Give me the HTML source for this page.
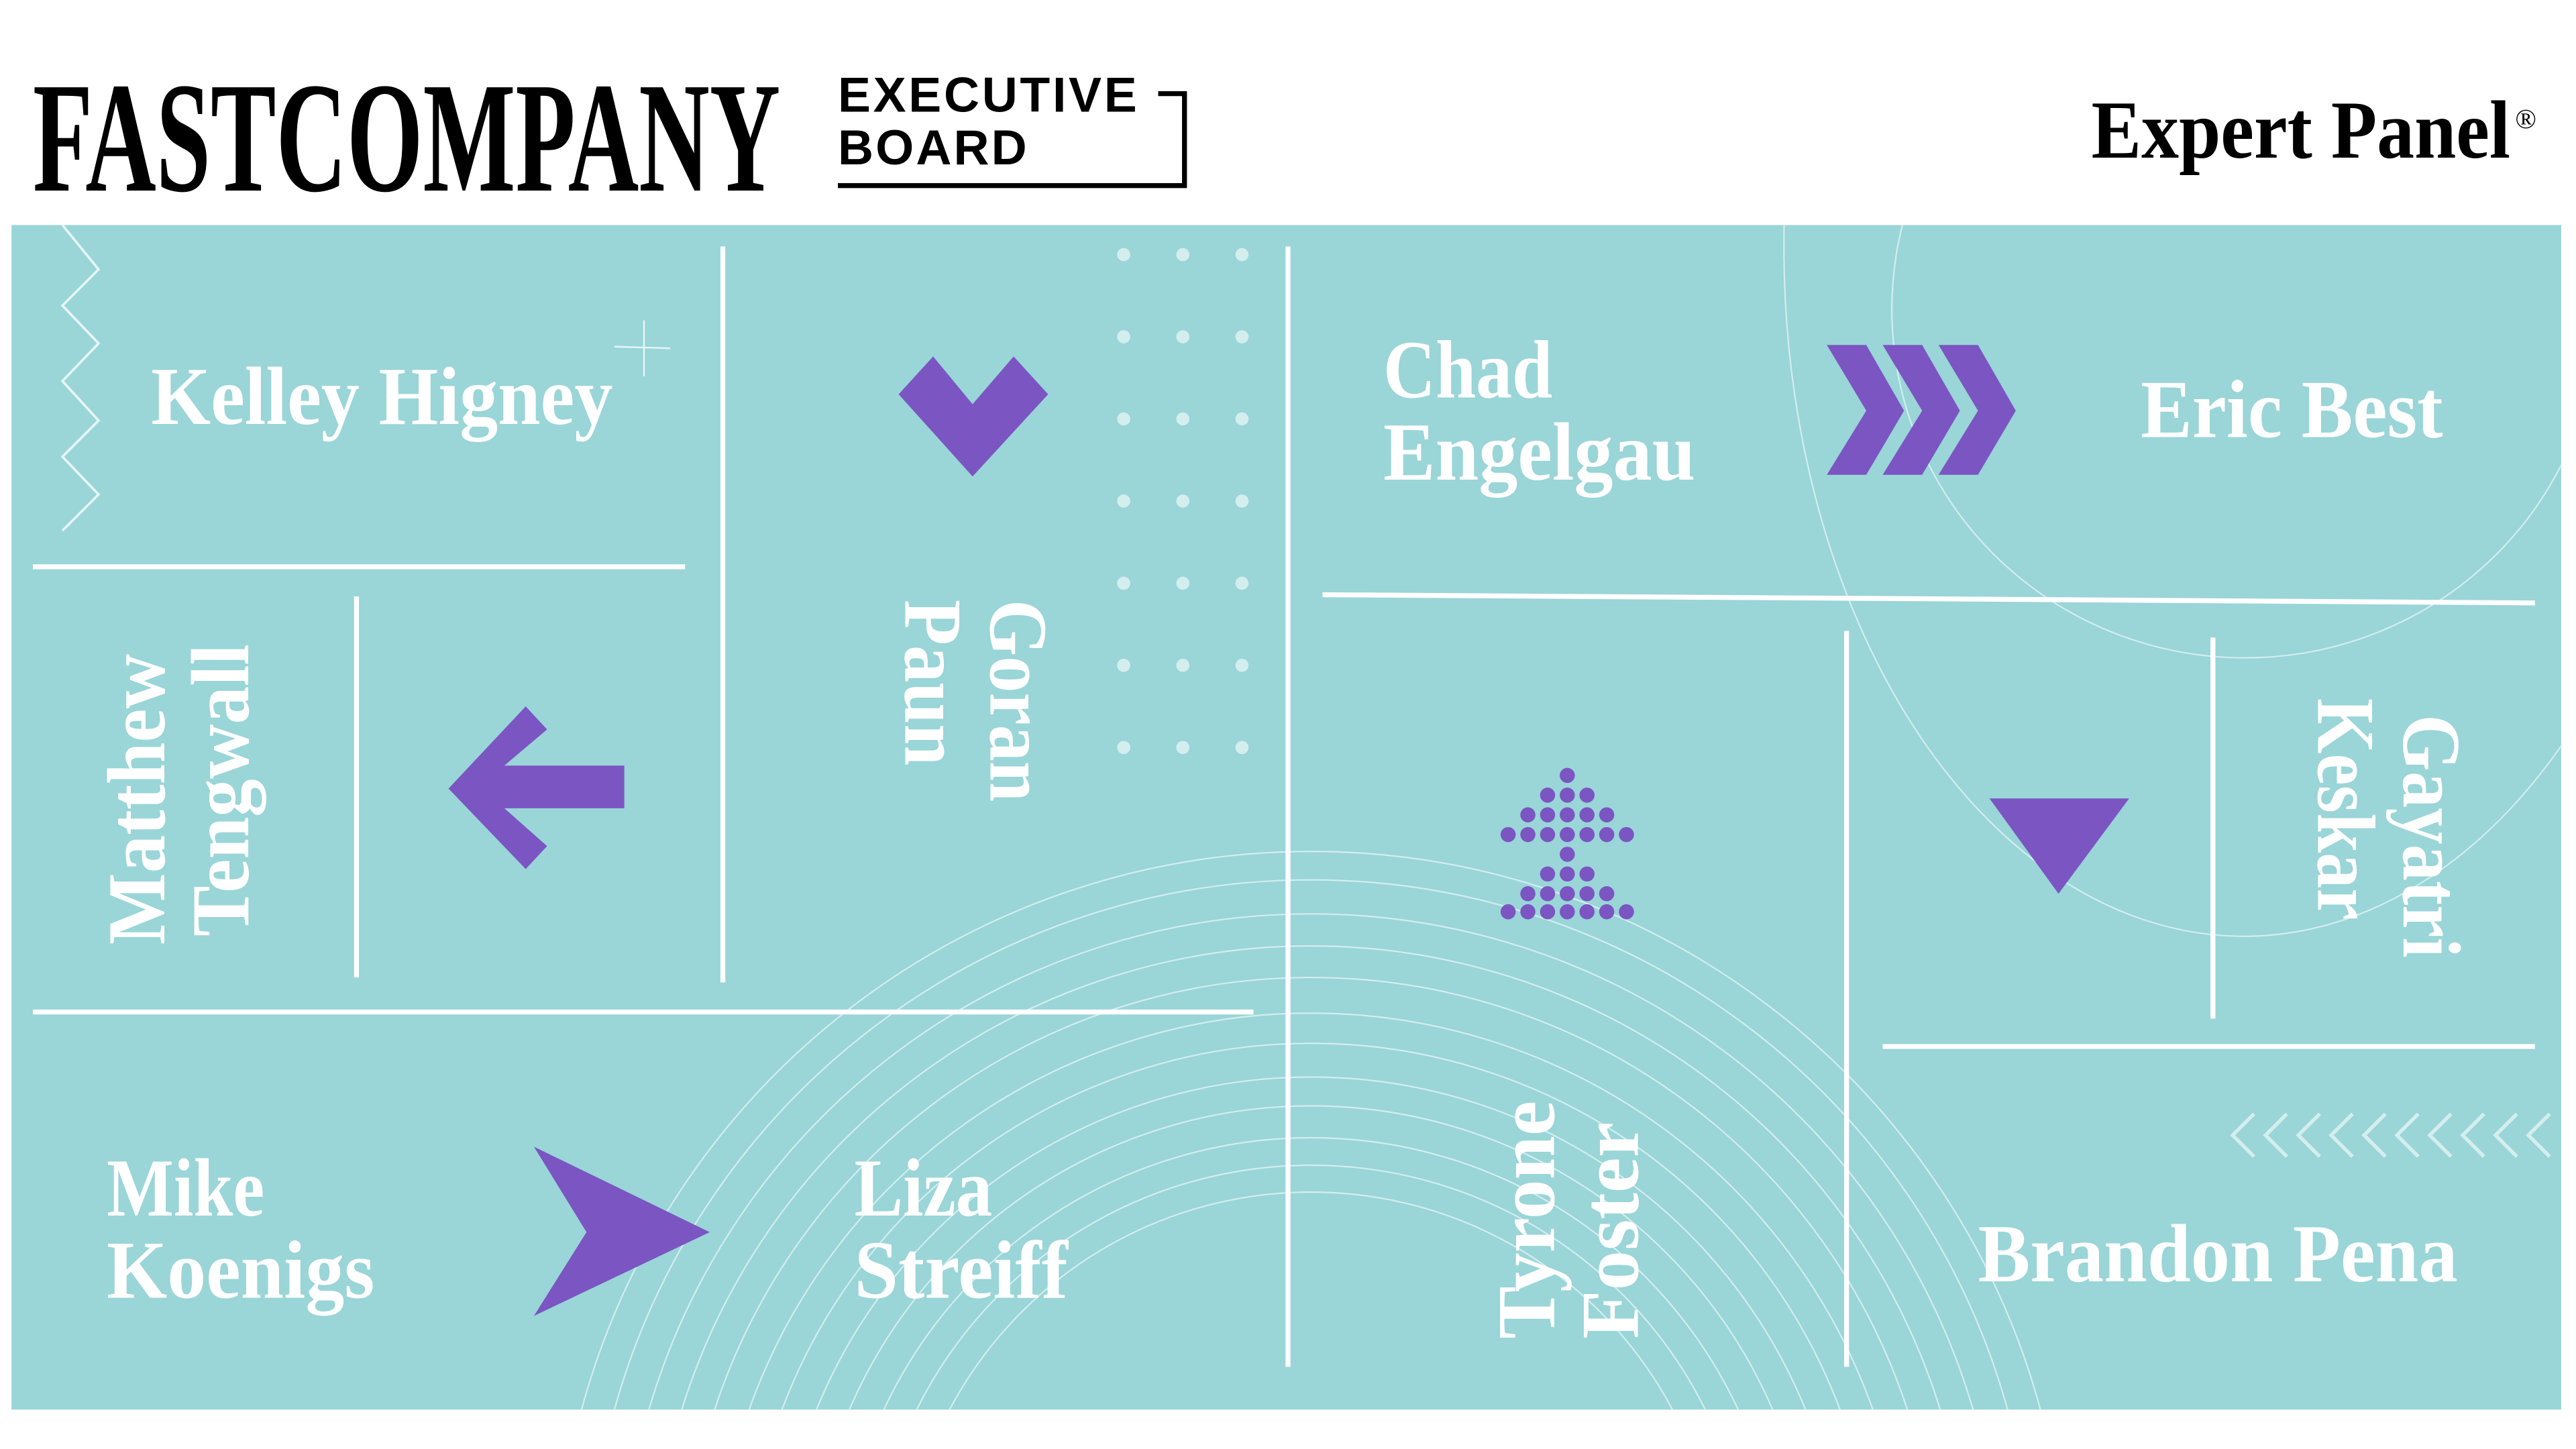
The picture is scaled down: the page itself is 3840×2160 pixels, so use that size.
<!DOCTYPE html>
<html><head><meta charset="utf-8"><style>
html,body{margin:0;padding:0;background:#fff;width:3840px;height:2160px;overflow:hidden;}
svg{display:block;}
.n{font-family:"Liberation Serif",serif;font-weight:bold;fill:#fff;}
</style></head><body>
<svg width="3840" height="2160" viewBox="0 0 1568 882" preserveAspectRatio="none" xmlns="http://www.w3.org/2000/svg">
<rect width="1568" height="882" fill="#fff"/>
<text x="20" y="116" font-family="Liberation Serif,serif" font-size="96" font-weight="bold" textLength="455" lengthAdjust="spacingAndGlyphs" fill="#000">FASTCOMPANY</text>
<text x="510" y="68" font-family="Liberation Sans,sans-serif" font-size="30" font-weight="bold" textLength="182" lengthAdjust="spacing" fill="#000">EXECUTIVE</text>
<text x="510" y="100" font-family="Liberation Sans,sans-serif" font-size="30" font-weight="bold" textLength="115" lengthAdjust="spacing" fill="#000">BOARD</text>
<polyline points="705,57 721,57 721,113 510,113" fill="none" stroke="#000" stroke-width="3"/>
<text x="1273" y="96" font-family="Liberation Serif,serif" font-size="50" font-weight="bold" textLength="255" lengthAdjust="spacingAndGlyphs" fill="#000">Expert Panel</text>
<text x="1531" y="78" font-family="Liberation Serif,serif" font-size="17" fill="#000">®</text>
<rect x="7" y="137" width="1552" height="721" fill="#9ad5d8"/>
<g fill="none" stroke="#e6f6f6" stroke-opacity="0.75" stroke-width="0.9">
<path d="M578,858 A249 249 0 0 1 1018,858"/>
<path d="M558,858 A268 268 0 0 1 1038,858"/>
<path d="M538,858 A287 287 0 0 1 1058,858"/>
<path d="M517,858 A306 306 0 0 1 1079,858"/>
<path d="M497,858 A325 325 0 0 1 1099,858"/>
<path d="M476,858 A344 344 0 0 1 1120,858"/>
<path d="M456,858 A363 363 0 0 1 1140,858"/>
<path d="M435,858 A382 382 0 0 1 1161,858"/>
<path d="M415,858 A401 401 0 0 1 1181,858"/>
<path d="M395,858 A420 420 0 0 1 1201,858"/>
<path d="M374,858 A440 440 0 0 1 1222,858"/>
<path d="M354,858 A460 460 0 0 1 1242,858"/>
<path d="M1158,137 A215 212 0 0 0 1559,283"/>
<path d="M1086,137 A280 420 0 0 0 1559,454"/>
</g>
<polyline points="38,137 60,164 38,186 60,209 38,232 60,256 38,278 60,301 38,323" fill="none" stroke="#e6f6f6" stroke-width="1.5"/>
<path d="M392,195V229M374,211L408,212" stroke="#e6f6f6" stroke-width="1"/>
<g fill="#d4eeee">
<circle cx="684" cy="155" r="4"/><circle cx="720" cy="155" r="4"/><circle cx="756" cy="155" r="4"/>
<circle cx="684" cy="205" r="4"/><circle cx="720" cy="205" r="4"/><circle cx="756" cy="205" r="4"/>
<circle cx="684" cy="255" r="4"/><circle cx="720" cy="255" r="4"/><circle cx="756" cy="255" r="4"/>
<circle cx="684" cy="305" r="4"/><circle cx="720" cy="305" r="4"/><circle cx="756" cy="305" r="4"/>
<circle cx="684" cy="355" r="4"/><circle cx="720" cy="355" r="4"/><circle cx="756" cy="355" r="4"/>
<circle cx="684" cy="405" r="4"/><circle cx="720" cy="405" r="4"/><circle cx="756" cy="405" r="4"/>
<circle cx="684" cy="455" r="4"/><circle cx="720" cy="455" r="4"/><circle cx="756" cy="455" r="4"/>
</g>
<g stroke="#fff" stroke-width="3">
<line x1="440" y1="150" x2="440" y2="598"/>
<line x1="20" y1="345" x2="417" y2="345"/>
<line x1="217" y1="363" x2="217" y2="595"/>
<line x1="20" y1="616" x2="763" y2="616"/>
<line x1="784" y1="150" x2="784" y2="832"/>
<line x1="805" y1="362" x2="1543" y2="367"/>
<line x1="1124" y1="384" x2="1124" y2="832"/>
<line x1="1347" y1="388" x2="1347" y2="620"/>
<line x1="1146" y1="637" x2="1543" y2="637"/>
</g>
<g fill="none" stroke="#d4eeee" stroke-width="2.2">
<polyline points="1372,678 1359,691 1372,704"/><polyline points="1392,678 1379,691 1392,704"/><polyline points="1412,678 1399,691 1412,704"/><polyline points="1432,678 1419,691 1432,704"/><polyline points="1452,678 1439,691 1452,704"/><polyline points="1472,678 1459,691 1472,704"/><polyline points="1492,678 1479,691 1492,704"/><polyline points="1512,678 1499,691 1512,704"/><polyline points="1532,678 1519,691 1532,704"/><polyline points="1552,678 1539,691 1552,704"/>
</g>
<g fill="#7b55c2">
<polygon points="547,240 568,217 592,246 617,217 638,240 592,290"/>
<polygon points="273,480 320,430 333,444 307,466 380,466 380,492 307,492 333,515 320,529"/>
<polygon points="1112,210 1136,210 1159,250 1136,289 1112,289 1136,250"/>
<polygon points="1146,210 1170,210 1193,250 1170,289 1146,289 1170,250"/>
<polygon points="1180,210 1204,210 1227,250 1204,289 1180,289 1204,250"/>
<polygon points="1211,486 1296,486 1253,544"/>
<polygon points="325,698 432,750 325,801 357,750"/>
<circle cx="954" cy="472" r="4.6"/>
<circle cx="942" cy="484" r="4.6"/><circle cx="954" cy="484" r="4.6"/><circle cx="966" cy="484" r="4.6"/>
<circle cx="930" cy="496" r="4.6"/><circle cx="942" cy="496" r="4.6"/><circle cx="954" cy="496" r="4.6"/><circle cx="966" cy="496" r="4.6"/><circle cx="978" cy="496" r="4.6"/>
<circle cx="918" cy="508" r="4.6"/><circle cx="930" cy="508" r="4.6"/><circle cx="942" cy="508" r="4.6"/><circle cx="954" cy="508" r="4.6"/><circle cx="966" cy="508" r="4.6"/><circle cx="978" cy="508" r="4.6"/><circle cx="990" cy="508" r="4.6"/>
<circle cx="954" cy="520" r="4.6"/>
<circle cx="942" cy="532" r="4.6"/><circle cx="954" cy="532" r="4.6"/><circle cx="966" cy="532" r="4.6"/>
<circle cx="930" cy="544" r="4.6"/><circle cx="942" cy="544" r="4.6"/><circle cx="954" cy="544" r="4.6"/><circle cx="966" cy="544" r="4.6"/><circle cx="978" cy="544" r="4.6"/>
<circle cx="918" cy="555" r="4.6"/><circle cx="930" cy="555" r="4.6"/><circle cx="942" cy="555" r="4.6"/><circle cx="954" cy="555" r="4.6"/><circle cx="966" cy="555" r="4.6"/><circle cx="978" cy="555" r="4.6"/><circle cx="990" cy="555" r="4.6"/>
</g>
<g class="n" font-size="50">
<text x="92" y="258" textLength="281" lengthAdjust="spacingAndGlyphs">Kelley Higney</text>
<text x="842" y="242" textLength="103" lengthAdjust="spacingAndGlyphs">Chad</text>
<text x="842" y="292" textLength="190" lengthAdjust="spacingAndGlyphs">Engelgau</text>
<text x="1303" y="266" textLength="184" lengthAdjust="spacingAndGlyphs">Eric Best</text>
<text x="65" y="740" textLength="96" lengthAdjust="spacingAndGlyphs">Mike</text>
<text x="65" y="790" textLength="163" lengthAdjust="spacingAndGlyphs">Koenigs</text>
<text x="520" y="740" textLength="84" lengthAdjust="spacingAndGlyphs">Liza</text>
<text x="520" y="790" textLength="130" lengthAdjust="spacingAndGlyphs">Streiff</text>
<text x="1204" y="780" textLength="292" lengthAdjust="spacingAndGlyphs">Brandon Pena</text>
<text transform="translate(100,575) rotate(-90)" textLength="177" lengthAdjust="spacingAndGlyphs">Matthew</text>
<text transform="translate(151,570) rotate(-90)" textLength="178" lengthAdjust="spacingAndGlyphs">Tengwall</text>
<text transform="translate(946,815) rotate(-90)" textLength="145" lengthAdjust="spacingAndGlyphs">Tyrone</text>
<text transform="translate(997,815) rotate(-90)" textLength="132" lengthAdjust="spacingAndGlyphs">Foster</text>
<text transform="translate(603,365) rotate(90)" textLength="123" lengthAdjust="spacingAndGlyphs">Goran</text>
<text transform="translate(551,365) rotate(90)" textLength="101" lengthAdjust="spacingAndGlyphs">Paun</text>
<text transform="translate(1463,435) rotate(90)" textLength="148" lengthAdjust="spacingAndGlyphs">Gayatri</text>
<text transform="translate(1411,425) rotate(90)" textLength="135" lengthAdjust="spacingAndGlyphs">Keskar</text>
</g>
</svg>
</body></html>
